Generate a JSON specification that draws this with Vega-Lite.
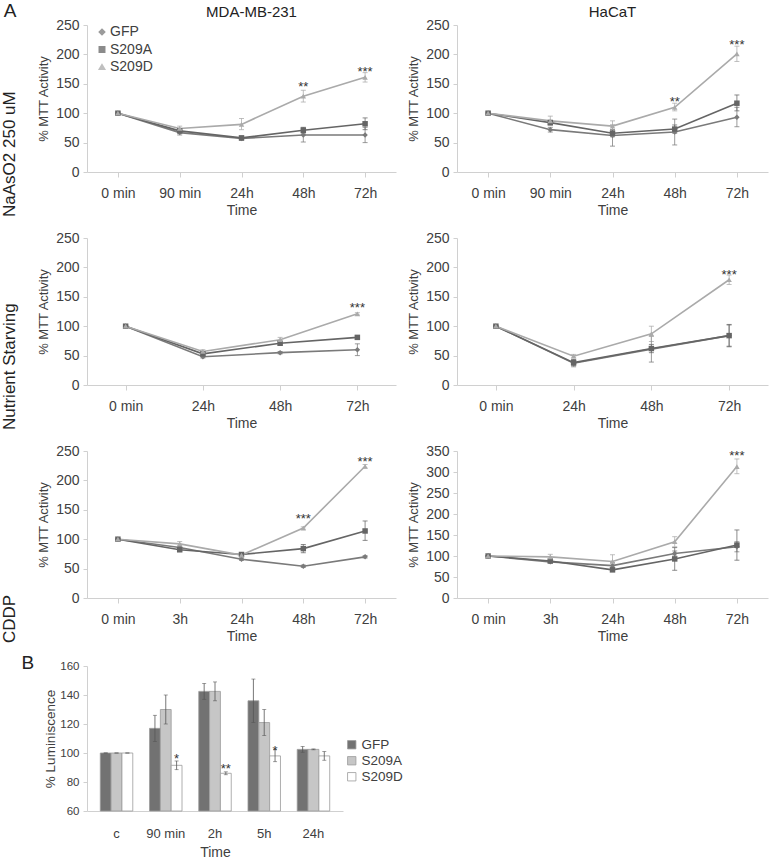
{
  "$schema": "https://vega.github.io/schema/vega-lite/v6.json",
  "padding": {"left": 0, "top": 2, "right": 2, "bottom": 2},
  "config": {
    "font": "Liberation Sans",
    "view": {"stroke": null},
    "axis": {"grid": false, "domainColor": "#d0d0d0", "tickColor": "#d0d0d0", "labelColor": "#404040", "titleColor": "#404040", "titleFontWeight": "normal", "labelFontSize": 14, "titleFontSize": 14, "labelOverlap": false},
    "axisX": {"tickSize": 5, "labelPadding": 9, "titlePadding": 3, "labelAngle": 0},
    "axisY": {"tickSize": 4, "labelPadding": 4, "titleFontSize": 13, "titlePadding": 5},
    "title": {"fontWeight": "normal", "color": "#222222"},
    "legend": {"labelColor": "#404040", "labelFontSize": 14}
  },
  "datasets": {
    "lines": [
      {"p": "NA-MDA", "group": "GFP", "time": "0 min", "value": 100, "lo": 99, "hi": 101},
      {"p": "NA-MDA", "group": "GFP", "time": "90 min", "value": 67, "lo": 63, "hi": 71},
      {"p": "NA-MDA", "group": "GFP", "time": "24h", "value": 57, "lo": 54, "hi": 60},
      {"p": "NA-MDA", "group": "GFP", "time": "48h", "value": 63, "lo": 51, "hi": 75},
      {"p": "NA-MDA", "group": "GFP", "time": "72h", "value": 63, "lo": 50, "hi": 76},
      {"p": "NA-MDA", "group": "S209A", "time": "0 min", "value": 100, "lo": 98, "hi": 102},
      {"p": "NA-MDA", "group": "S209A", "time": "90 min", "value": 70, "lo": 67, "hi": 73},
      {"p": "NA-MDA", "group": "S209A", "time": "24h", "value": 58, "lo": 55, "hi": 61},
      {"p": "NA-MDA", "group": "S209A", "time": "48h", "value": 71, "lo": 66, "hi": 76},
      {"p": "NA-MDA", "group": "S209A", "time": "72h", "value": 82, "lo": 72, "hi": 92},
      {"p": "NA-MDA", "group": "S209D", "time": "0 min", "value": 100, "lo": 98, "hi": 102},
      {"p": "NA-MDA", "group": "S209D", "time": "90 min", "value": 74, "lo": 70, "hi": 78},
      {"p": "NA-MDA", "group": "S209D", "time": "24h", "value": 81, "lo": 72, "hi": 91},
      {"p": "NA-MDA", "group": "S209D", "time": "48h", "value": 129, "lo": 119, "hi": 139, "star": "**", "sy": 149},
      {"p": "NA-MDA", "group": "S209D", "time": "72h", "value": 161, "lo": 153, "hi": 169, "star": "***", "sy": 176},

      {"p": "NA-HaCaT", "group": "GFP", "time": "0 min", "value": 100, "lo": 99, "hi": 101},
      {"p": "NA-HaCaT", "group": "GFP", "time": "90 min", "value": 72, "lo": 68, "hi": 76},
      {"p": "NA-HaCaT", "group": "GFP", "time": "24h", "value": 62, "lo": 44, "hi": 80},
      {"p": "NA-HaCaT", "group": "GFP", "time": "48h", "value": 68, "lo": 46, "hi": 90},
      {"p": "NA-HaCaT", "group": "GFP", "time": "72h", "value": 93, "lo": 77, "hi": 110},
      {"p": "NA-HaCaT", "group": "S209A", "time": "0 min", "value": 100, "lo": 98, "hi": 102},
      {"p": "NA-HaCaT", "group": "S209A", "time": "90 min", "value": 84, "lo": 80, "hi": 88},
      {"p": "NA-HaCaT", "group": "S209A", "time": "24h", "value": 66, "lo": 60, "hi": 72},
      {"p": "NA-HaCaT", "group": "S209A", "time": "48h", "value": 73, "lo": 66, "hi": 80},
      {"p": "NA-HaCaT", "group": "S209A", "time": "72h", "value": 117, "lo": 104, "hi": 131},
      {"p": "NA-HaCaT", "group": "S209D", "time": "0 min", "value": 100, "lo": 98, "hi": 102},
      {"p": "NA-HaCaT", "group": "S209D", "time": "90 min", "value": 87, "lo": 80, "hi": 95},
      {"p": "NA-HaCaT", "group": "S209D", "time": "24h", "value": 78, "lo": 71, "hi": 87},
      {"p": "NA-HaCaT", "group": "S209D", "time": "48h", "value": 110, "lo": 104, "hi": 117, "star": "**", "sy": 125},
      {"p": "NA-HaCaT", "group": "S209D", "time": "72h", "value": 201, "lo": 188, "hi": 214, "star": "***", "sy": 221},

      {"p": "NS-MDA", "group": "GFP", "time": "0 min", "value": 100, "lo": 99, "hi": 101},
      {"p": "NS-MDA", "group": "GFP", "time": "24h", "value": 48, "lo": 46, "hi": 50},
      {"p": "NS-MDA", "group": "GFP", "time": "48h", "value": 55, "lo": 53, "hi": 57},
      {"p": "NS-MDA", "group": "GFP", "time": "72h", "value": 60, "lo": 50, "hi": 70},
      {"p": "NS-MDA", "group": "S209A", "time": "0 min", "value": 100, "lo": 99, "hi": 101},
      {"p": "NS-MDA", "group": "S209A", "time": "24h", "value": 53, "lo": 51, "hi": 55},
      {"p": "NS-MDA", "group": "S209A", "time": "48h", "value": 71, "lo": 68, "hi": 74},
      {"p": "NS-MDA", "group": "S209A", "time": "72h", "value": 81, "lo": 78, "hi": 84},
      {"p": "NS-MDA", "group": "S209D", "time": "0 min", "value": 100, "lo": 99, "hi": 101},
      {"p": "NS-MDA", "group": "S209D", "time": "24h", "value": 57, "lo": 54, "hi": 60},
      {"p": "NS-MDA", "group": "S209D", "time": "48h", "value": 77, "lo": 73, "hi": 81},
      {"p": "NS-MDA", "group": "S209D", "time": "72h", "value": 121, "lo": 119, "hi": 123, "star": "***", "sy": 136},

      {"p": "NS-HaCaT", "group": "GFP", "time": "0 min", "value": 100, "lo": 99, "hi": 101},
      {"p": "NS-HaCaT", "group": "GFP", "time": "24h", "value": 37, "lo": 31, "hi": 43},
      {"p": "NS-HaCaT", "group": "GFP", "time": "48h", "value": 61, "lo": 39, "hi": 83},
      {"p": "NS-HaCaT", "group": "GFP", "time": "72h", "value": 84, "lo": 66, "hi": 102},
      {"p": "NS-HaCaT", "group": "S209A", "time": "0 min", "value": 100, "lo": 99, "hi": 101},
      {"p": "NS-HaCaT", "group": "S209A", "time": "24h", "value": 38, "lo": 33, "hi": 43},
      {"p": "NS-HaCaT", "group": "S209A", "time": "48h", "value": 62, "lo": 55, "hi": 69},
      {"p": "NS-HaCaT", "group": "S209A", "time": "72h", "value": 84, "lo": 65, "hi": 103},
      {"p": "NS-HaCaT", "group": "S209D", "time": "0 min", "value": 100, "lo": 99, "hi": 101},
      {"p": "NS-HaCaT", "group": "S209D", "time": "24h", "value": 49, "lo": 46, "hi": 52},
      {"p": "NS-HaCaT", "group": "S209D", "time": "48h", "value": 87, "lo": 74, "hi": 100},
      {"p": "NS-HaCaT", "group": "S209D", "time": "72h", "value": 179, "lo": 171, "hi": 187, "star": "***", "sy": 192},

      {"p": "CD-MDA", "group": "GFP", "time": "0 min", "value": 100, "lo": 99, "hi": 101},
      {"p": "CD-MDA", "group": "GFP", "time": "3h", "value": 86, "lo": 84, "hi": 88},
      {"p": "CD-MDA", "group": "GFP", "time": "24h", "value": 66, "lo": 64, "hi": 68},
      {"p": "CD-MDA", "group": "GFP", "time": "48h", "value": 54, "lo": 52, "hi": 56},
      {"p": "CD-MDA", "group": "GFP", "time": "72h", "value": 70, "lo": 68, "hi": 72},
      {"p": "CD-MDA", "group": "S209A", "time": "0 min", "value": 100, "lo": 99, "hi": 101},
      {"p": "CD-MDA", "group": "S209A", "time": "3h", "value": 82, "lo": 80, "hi": 84},
      {"p": "CD-MDA", "group": "S209A", "time": "24h", "value": 74, "lo": 71, "hi": 77},
      {"p": "CD-MDA", "group": "S209A", "time": "48h", "value": 84, "lo": 77, "hi": 91},
      {"p": "CD-MDA", "group": "S209A", "time": "72h", "value": 114, "lo": 98, "hi": 131},
      {"p": "CD-MDA", "group": "S209D", "time": "0 min", "value": 100, "lo": 99, "hi": 101},
      {"p": "CD-MDA", "group": "S209D", "time": "3h", "value": 92, "lo": 88, "hi": 96},
      {"p": "CD-MDA", "group": "S209D", "time": "24h", "value": 73, "lo": 70, "hi": 76},
      {"p": "CD-MDA", "group": "S209D", "time": "48h", "value": 119, "lo": 117, "hi": 121, "star": "***", "sy": 139},
      {"p": "CD-MDA", "group": "S209D", "time": "72h", "value": 224, "lo": 221, "hi": 227, "star": "***", "sy": 237},

      {"p": "CD-HaCaT", "group": "GFP", "time": "0 min", "value": 100, "lo": 99, "hi": 101},
      {"p": "CD-HaCaT", "group": "GFP", "time": "3h", "value": 86, "lo": 84, "hi": 88},
      {"p": "CD-HaCaT", "group": "GFP", "time": "24h", "value": 77, "lo": 70, "hi": 84},
      {"p": "CD-HaCaT", "group": "GFP", "time": "48h", "value": 106, "lo": 100, "hi": 112},
      {"p": "CD-HaCaT", "group": "GFP", "time": "72h", "value": 122, "lo": 110, "hi": 134},
      {"p": "CD-HaCaT", "group": "S209A", "time": "0 min", "value": 100, "lo": 99, "hi": 101},
      {"p": "CD-HaCaT", "group": "S209A", "time": "3h", "value": 88, "lo": 85, "hi": 91},
      {"p": "CD-HaCaT", "group": "S209A", "time": "24h", "value": 67, "lo": 63, "hi": 71},
      {"p": "CD-HaCaT", "group": "S209A", "time": "48h", "value": 93, "lo": 66, "hi": 120},
      {"p": "CD-HaCaT", "group": "S209A", "time": "72h", "value": 126, "lo": 90, "hi": 162},
      {"p": "CD-HaCaT", "group": "S209D", "time": "0 min", "value": 100, "lo": 99, "hi": 101},
      {"p": "CD-HaCaT", "group": "S209D", "time": "3h", "value": 98, "lo": 92, "hi": 104},
      {"p": "CD-HaCaT", "group": "S209D", "time": "24h", "value": 87, "lo": 72, "hi": 103},
      {"p": "CD-HaCaT", "group": "S209D", "time": "48h", "value": 134, "lo": 122, "hi": 146},
      {"p": "CD-HaCaT", "group": "S209D", "time": "72h", "value": 313, "lo": 296, "hi": 331, "star": "***", "sy": 345}
    ],
    "bars": [
      {"group": "GFP", "time": "c", "value": 100, "lo": 100, "hi": 100},
      {"group": "S209A", "time": "c", "value": 100, "lo": 100, "hi": 100},
      {"group": "S209D", "time": "c", "value": 100, "lo": 100, "hi": 100},
      {"group": "GFP", "time": "90 min", "value": 117, "lo": 108, "hi": 126},
      {"group": "S209A", "time": "90 min", "value": 130, "lo": 120, "hi": 140},
      {"group": "S209D", "time": "90 min", "value": 91.5, "lo": 88.5, "hi": 94.5, "star": "*", "sy": 98},
      {"group": "GFP", "time": "2h", "value": 142.5, "lo": 137, "hi": 148},
      {"group": "S209A", "time": "2h", "value": 142.5, "lo": 136, "hi": 149},
      {"group": "S209D", "time": "2h", "value": 86, "lo": 85, "hi": 87, "star": "**", "sy": 91},
      {"group": "GFP", "time": "5h", "value": 136, "lo": 121, "hi": 151},
      {"group": "S209A", "time": "5h", "value": 121, "lo": 112, "hi": 130},
      {"group": "S209D", "time": "5h", "value": 98, "lo": 94, "hi": 102.5, "star": "*", "sy": 103.5},
      {"group": "GFP", "time": "24h", "value": 102.5, "lo": 100.5, "hi": 104.5},
      {"group": "S209A", "time": "24h", "value": 102.5, "lo": 102.2, "hi": 102.8},
      {"group": "S209D", "time": "24h", "value": 98, "lo": 95, "hi": 101}
    ]
  },
  "title": {"text": "A", "anchor": "start", "frame": "bounds", "fontSize": 19, "offset": 0, "dy": 16, "dx": 3},
  "resolve": {"scale": {"color": "independent", "shape": "independent", "fill": "independent"}, "legend": {"color": "independent", "shape": "independent", "fill": "independent"}},
  "columns": 1,
  "align": "none",
  "spacing": 11,
  "concat": [
    {
      "spacing": 14,
      "resolve": {"scale": {"color": "independent", "shape": "independent"}, "legend": {"color": "independent", "shape": "independent"}},
      "vconcat": [
        {
          "title": {"text": "NaAsO2 250 uM", "orient": "left", "fontSize": 17, "offset": 19},
          "spacing": 11,
          "resolve": {"scale": {"color": "independent", "shape": "independent"}, "legend": {"color": "independent", "shape": "independent"}},
          "hconcat": [
            {
              "width": 309, "height": 147,
              "title": {"text": "MDA-MB-231", "fontSize": 15, "offset": -2, "dx": 10},
              "data": {"name": "lines"},
              "transform": [{"filter": "datum.p === 'NA-MDA'"}],
              "encoding": {"x": {"field": "time", "type": "ordinal", "sort": null, "scale": {"type": "point", "domain": ["0 min", "90 min", "24h", "48h", "72h"], "padding": 0.5}, "axis": {"title": "Time"}}},
              "layer": [
                {"mark": {"type": "errorbar", "ticks": {"size": 5}, "thickness": 1, "opacity": 0.75},
                 "encoding": {"y": {"field": "lo", "type": "quantitative", "title": "% MTT Activity", "scale": {"domain": [0, 250], "nice": false}, "axis": {"values": [0, 50, 100, 150, 200, 250]}}, "y2": {"field": "hi"},
                   "color": {"field": "group", "type": "nominal", "scale": {"domain": ["GFP", "S209A", "S209D"], "range": ["#7a7a7a", "#656565", "#aaaaaa"]}}}},
                {"mark": {"type": "line", "strokeWidth": 1.6},
                 "encoding": {"y": {"field": "value", "type": "quantitative", "title": "% MTT Activity", "scale": {"domain": [0, 250], "nice": false}, "axis": {"values": [0, 50, 100, 150, 200, 250]}},
                   "color": {"field": "group", "type": "nominal"}}},
                {"mark": {"type": "point", "filled": true, "size": 30, "opacity": 1},
                 "encoding": {"y": {"field": "value", "type": "quantitative", "title": "% MTT Activity", "axis": {"values": [0, 50, 100, 150, 200, 250]}},
                   "color": {"field": "group", "type": "nominal", "legend": {"orient": "none", "legendX": 8, "legendY": 0, "title": null, "padding": 0, "rowPadding": 3.5, "symbolSize": 30, "labelFontSize": 14, "labelOffset": 1}},
                   "shape": {"field": "group", "type": "nominal", "scale": {"domain": ["GFP", "S209A", "S209D"], "range": ["diamond", "square", "triangle-up"]}, "legend": {"orient": "none", "legendX": 8, "legendY": 0, "title": null, "padding": 0, "rowPadding": 3.5, "symbolSize": 30, "labelFontSize": 14, "labelOffset": 1}}}},
                {"transform": [{"filter": "datum.star"}],
                 "mark": {"type": "text", "fontSize": 13, "dy": 3, "color": "#333333"},
                 "encoding": {"y": {"field": "sy", "type": "quantitative", "title": "% MTT Activity", "axis": {"values": [0, 50, 100, 150, 200, 250]}}, "text": {"field": "star"}}}
              ]
            },
            {
              "width": 311, "height": 147,
              "title": {"text": "HaCaT", "fontSize": 15, "offset": -2},
              "data": {"name": "lines"},
              "transform": [{"filter": "datum.p === 'NA-HaCaT'"}],
              "encoding": {"x": {"field": "time", "type": "ordinal", "sort": null, "scale": {"type": "point", "domain": ["0 min", "90 min", "24h", "48h", "72h"], "padding": 0.5}, "axis": {"title": "Time"}}},
              "layer": [
                {"mark": {"type": "errorbar", "ticks": {"size": 5}, "thickness": 1, "opacity": 0.75},
                 "encoding": {"y": {"field": "lo", "type": "quantitative", "title": "% MTT Activity", "scale": {"domain": [0, 250], "nice": false}, "axis": {"values": [0, 50, 100, 150, 200, 250]}}, "y2": {"field": "hi"},
                   "color": {"field": "group", "type": "nominal", "scale": {"domain": ["GFP", "S209A", "S209D"], "range": ["#7a7a7a", "#656565", "#aaaaaa"]}, "legend": null}}},
                {"mark": {"type": "line", "strokeWidth": 1.6},
                 "encoding": {"y": {"field": "value", "type": "quantitative", "title": "% MTT Activity", "scale": {"domain": [0, 250], "nice": false}, "axis": {"values": [0, 50, 100, 150, 200, 250]}}, "color": {"field": "group", "type": "nominal", "legend": null}}},
                {"mark": {"type": "point", "filled": true, "size": 30, "opacity": 1},
                 "encoding": {"y": {"field": "value", "type": "quantitative", "title": "% MTT Activity", "axis": {"values": [0, 50, 100, 150, 200, 250]}}, "color": {"field": "group", "type": "nominal", "legend": null},
                   "shape": {"field": "group", "type": "nominal", "scale": {"domain": ["GFP", "S209A", "S209D"], "range": ["diamond", "square", "triangle-up"]}, "legend": null}}},
                {"transform": [{"filter": "datum.star"}],
                 "mark": {"type": "text", "fontSize": 13, "dy": 3, "color": "#333333"},
                 "encoding": {"y": {"field": "sy", "type": "quantitative", "title": "% MTT Activity", "axis": {"values": [0, 50, 100, 150, 200, 250]}}, "text": {"field": "star"}}}
              ]
            }
          ]
        },
        {
          "title": {"text": "Nutrient Starving", "orient": "left", "fontSize": 17, "offset": 19},
          "spacing": 11,
          "resolve": {"scale": {"color": "independent", "shape": "independent"}, "legend": {"color": "independent", "shape": "independent"}},
          "hconcat": [
            {
              "width": 309, "height": 147,
              "data": {"name": "lines"},
              "transform": [{"filter": "datum.p === 'NS-MDA'"}],
              "encoding": {"x": {"field": "time", "type": "ordinal", "sort": null, "scale": {"type": "point", "domain": ["0 min", "24h", "48h", "72h"], "padding": 0.5}, "axis": {"title": "Time"}}},
              "layer": [
                {"mark": {"type": "errorbar", "ticks": {"size": 5}, "thickness": 1, "opacity": 0.75},
                 "encoding": {"y": {"field": "lo", "type": "quantitative", "title": "% MTT Activity", "scale": {"domain": [0, 250], "nice": false}, "axis": {"values": [0, 50, 100, 150, 200, 250]}}, "y2": {"field": "hi"},
                   "color": {"field": "group", "type": "nominal", "scale": {"domain": ["GFP", "S209A", "S209D"], "range": ["#7a7a7a", "#656565", "#aaaaaa"]}, "legend": null}}},
                {"mark": {"type": "line", "strokeWidth": 1.6},
                 "encoding": {"y": {"field": "value", "type": "quantitative", "title": "% MTT Activity", "scale": {"domain": [0, 250], "nice": false}, "axis": {"values": [0, 50, 100, 150, 200, 250]}}, "color": {"field": "group", "type": "nominal", "legend": null}}},
                {"mark": {"type": "point", "filled": true, "size": 30, "opacity": 1},
                 "encoding": {"y": {"field": "value", "type": "quantitative", "title": "% MTT Activity", "axis": {"values": [0, 50, 100, 150, 200, 250]}}, "color": {"field": "group", "type": "nominal", "legend": null},
                   "shape": {"field": "group", "type": "nominal", "scale": {"domain": ["GFP", "S209A", "S209D"], "range": ["diamond", "square", "triangle-up"]}, "legend": null}}},
                {"transform": [{"filter": "datum.star"}],
                 "mark": {"type": "text", "fontSize": 13, "dy": 3, "color": "#333333"},
                 "encoding": {"y": {"field": "sy", "type": "quantitative", "title": "% MTT Activity", "axis": {"values": [0, 50, 100, 150, 200, 250]}}, "text": {"field": "star"}}}
              ]
            },
            {
              "width": 311, "height": 147,
              "data": {"name": "lines"},
              "transform": [{"filter": "datum.p === 'NS-HaCaT'"}],
              "encoding": {"x": {"field": "time", "type": "ordinal", "sort": null, "scale": {"type": "point", "domain": ["0 min", "24h", "48h", "72h"], "padding": 0.5}, "axis": {"title": "Time"}}},
              "layer": [
                {"mark": {"type": "errorbar", "ticks": {"size": 5}, "thickness": 1, "opacity": 0.75},
                 "encoding": {"y": {"field": "lo", "type": "quantitative", "title": "% MTT Activity", "scale": {"domain": [0, 250], "nice": false}, "axis": {"values": [0, 50, 100, 150, 200, 250]}}, "y2": {"field": "hi"},
                   "color": {"field": "group", "type": "nominal", "scale": {"domain": ["GFP", "S209A", "S209D"], "range": ["#7a7a7a", "#656565", "#aaaaaa"]}, "legend": null}}},
                {"mark": {"type": "line", "strokeWidth": 1.6},
                 "encoding": {"y": {"field": "value", "type": "quantitative", "title": "% MTT Activity", "scale": {"domain": [0, 250], "nice": false}, "axis": {"values": [0, 50, 100, 150, 200, 250]}}, "color": {"field": "group", "type": "nominal", "legend": null}}},
                {"mark": {"type": "point", "filled": true, "size": 30, "opacity": 1},
                 "encoding": {"y": {"field": "value", "type": "quantitative", "title": "% MTT Activity", "axis": {"values": [0, 50, 100, 150, 200, 250]}}, "color": {"field": "group", "type": "nominal", "legend": null},
                   "shape": {"field": "group", "type": "nominal", "scale": {"domain": ["GFP", "S209A", "S209D"], "range": ["diamond", "square", "triangle-up"]}, "legend": null}}},
                {"transform": [{"filter": "datum.star"}],
                 "mark": {"type": "text", "fontSize": 13, "dy": 3, "color": "#333333"},
                 "encoding": {"y": {"field": "sy", "type": "quantitative", "title": "% MTT Activity", "axis": {"values": [0, 50, 100, 150, 200, 250]}}, "text": {"field": "star"}}}
              ]
            }
          ]
        },
        {
          "title": {"text": "CDDP", "orient": "left", "fontSize": 17, "offset": 19},
          "spacing": 11,
          "resolve": {"scale": {"color": "independent", "shape": "independent"}, "legend": {"color": "independent", "shape": "independent"}},
          "hconcat": [
            {
              "width": 309, "height": 147,
              "data": {"name": "lines"},
              "transform": [{"filter": "datum.p === 'CD-MDA'"}],
              "encoding": {"x": {"field": "time", "type": "ordinal", "sort": null, "scale": {"type": "point", "domain": ["0 min", "3h", "24h", "48h", "72h"], "padding": 0.5}, "axis": {"title": "Time"}}},
              "layer": [
                {"mark": {"type": "errorbar", "ticks": {"size": 5}, "thickness": 1, "opacity": 0.75},
                 "encoding": {"y": {"field": "lo", "type": "quantitative", "title": "% MTT Activity", "scale": {"domain": [0, 250], "nice": false}, "axis": {"values": [0, 50, 100, 150, 200, 250]}}, "y2": {"field": "hi"},
                   "color": {"field": "group", "type": "nominal", "scale": {"domain": ["GFP", "S209A", "S209D"], "range": ["#7a7a7a", "#656565", "#aaaaaa"]}, "legend": null}}},
                {"mark": {"type": "line", "strokeWidth": 1.6},
                 "encoding": {"y": {"field": "value", "type": "quantitative", "title": "% MTT Activity", "scale": {"domain": [0, 250], "nice": false}, "axis": {"values": [0, 50, 100, 150, 200, 250]}}, "color": {"field": "group", "type": "nominal", "legend": null}}},
                {"mark": {"type": "point", "filled": true, "size": 30, "opacity": 1},
                 "encoding": {"y": {"field": "value", "type": "quantitative", "title": "% MTT Activity", "axis": {"values": [0, 50, 100, 150, 200, 250]}}, "color": {"field": "group", "type": "nominal", "legend": null},
                   "shape": {"field": "group", "type": "nominal", "scale": {"domain": ["GFP", "S209A", "S209D"], "range": ["diamond", "square", "triangle-up"]}, "legend": null}}},
                {"transform": [{"filter": "datum.star"}],
                 "mark": {"type": "text", "fontSize": 13, "dy": 3, "color": "#333333"},
                 "encoding": {"y": {"field": "sy", "type": "quantitative", "title": "% MTT Activity", "axis": {"values": [0, 50, 100, 150, 200, 250]}}, "text": {"field": "star"}}}
              ]
            },
            {
              "width": 311, "height": 147,
              "data": {"name": "lines"},
              "transform": [{"filter": "datum.p === 'CD-HaCaT'"}],
              "encoding": {"x": {"field": "time", "type": "ordinal", "sort": null, "scale": {"type": "point", "domain": ["0 min", "3h", "24h", "48h", "72h"], "padding": 0.5}, "axis": {"title": "Time"}}},
              "layer": [
                {"mark": {"type": "errorbar", "ticks": {"size": 5}, "thickness": 1, "opacity": 0.75},
                 "encoding": {"y": {"field": "lo", "type": "quantitative", "title": "% MTT Activity", "scale": {"domain": [0, 350], "nice": false}, "axis": {"values": [0, 50, 100, 150, 200, 250, 300, 350]}}, "y2": {"field": "hi"},
                   "color": {"field": "group", "type": "nominal", "scale": {"domain": ["GFP", "S209A", "S209D"], "range": ["#7a7a7a", "#656565", "#aaaaaa"]}, "legend": null}}},
                {"mark": {"type": "line", "strokeWidth": 1.6},
                 "encoding": {"y": {"field": "value", "type": "quantitative", "title": "% MTT Activity", "scale": {"domain": [0, 350], "nice": false}, "axis": {"values": [0, 50, 100, 150, 200, 250, 300, 350]}}, "color": {"field": "group", "type": "nominal", "legend": null}}},
                {"mark": {"type": "point", "filled": true, "size": 30, "opacity": 1},
                 "encoding": {"y": {"field": "value", "type": "quantitative", "title": "% MTT Activity", "axis": {"values": [0, 50, 100, 150, 200, 250, 300, 350]}}, "color": {"field": "group", "type": "nominal", "legend": null},
                   "shape": {"field": "group", "type": "nominal", "scale": {"domain": ["GFP", "S209A", "S209D"], "range": ["diamond", "square", "triangle-up"]}, "legend": null}}},
                {"transform": [{"filter": "datum.star"}],
                 "mark": {"type": "text", "fontSize": 13, "dy": 3, "color": "#333333"},
                 "encoding": {"y": {"field": "sy", "type": "quantitative", "title": "% MTT Activity", "axis": {"values": [0, 50, 100, 150, 200, 250, 300, 350]}}, "text": {"field": "star"}}}
              ]
            }
          ]
        }
      ]
    },
    {
      "title": {"text": "B", "orient": "left", "angle": 0, "anchor": "end", "fontSize": 19, "offset": 0, "baseline": "top", "dy": -6, "dx": 3},
      "width": 256, "height": 145,
      "data": {"name": "bars"},
      "encoding": {
        "x": {"field": "time", "type": "nominal", "sort": null, "scale": {"domain": ["c", "90 min", "2h", "5h", "24h"], "paddingInner": 0.34, "paddingOuter": 0.27}, "axis": {"title": "Time", "ticks": false, "labelFontSize": 13, "labelPadding": 16, "titlePadding": 5}},
        "xOffset": {"field": "group", "type": "nominal", "scale": {"domain": ["GFP", "S209A", "S209D"], "paddingInner": 0}}
      },
      "layer": [
        {"mark": {"type": "bar", "stroke": "#9a9a9a", "strokeWidth": 0.8},
         "encoding": {"y": {"field": "value", "type": "quantitative", "title": "% Luminiscence", "scale": {"domain": [60, 160], "nice": false, "zero": false}, "axis": {"values": [60, 80, 100, 120, 140, 160], "labelFontSize": 11.5, "titleFontSize": 13.5, "titlePadding": 2, "labelPadding": 4, "minExtent": 0}},
           "y2": {"datum": 60},
           "fill": {"field": "group", "type": "nominal", "scale": {"domain": ["GFP", "S209A", "S209D"], "range": ["#727272", "#c6c6c6", "#ffffff"]},
             "legend": {"orient": "none", "legendX": 258, "legendY": 72, "title": null, "symbolType": "square", "symbolSize": 70, "symbolStrokeColor": "#9a9a9a", "symbolStrokeWidth": 0.8, "rowPadding": 1, "labelFontSize": 13.5, "labelOffset": 3}}}},
        {"mark": {"type": "errorbar", "ticks": {"size": 4}, "thickness": 0.8, "color": "#555555"},
         "encoding": {"y": {"field": "lo", "type": "quantitative", "title": "% Luminiscence", "axis": {"values": [60, 80, 100, 120, 140, 160], "labelFontSize": 11.5, "titleFontSize": 13.5, "titlePadding": 2, "labelPadding": 4, "minExtent": 0}}, "y2": {"field": "hi"}}},
        {"transform": [{"filter": "datum.star"}],
         "mark": {"type": "text", "fontSize": 13, "dy": 3, "color": "#333333"},
         "encoding": {"y": {"field": "sy", "type": "quantitative", "title": "% Luminiscence", "axis": {"values": [60, 80, 100, 120, 140, 160], "labelFontSize": 11.5, "titleFontSize": 13.5, "titlePadding": 2, "labelPadding": 4, "minExtent": 0}}, "text": {"field": "star"}}}
      ]
    }
  ]
}
